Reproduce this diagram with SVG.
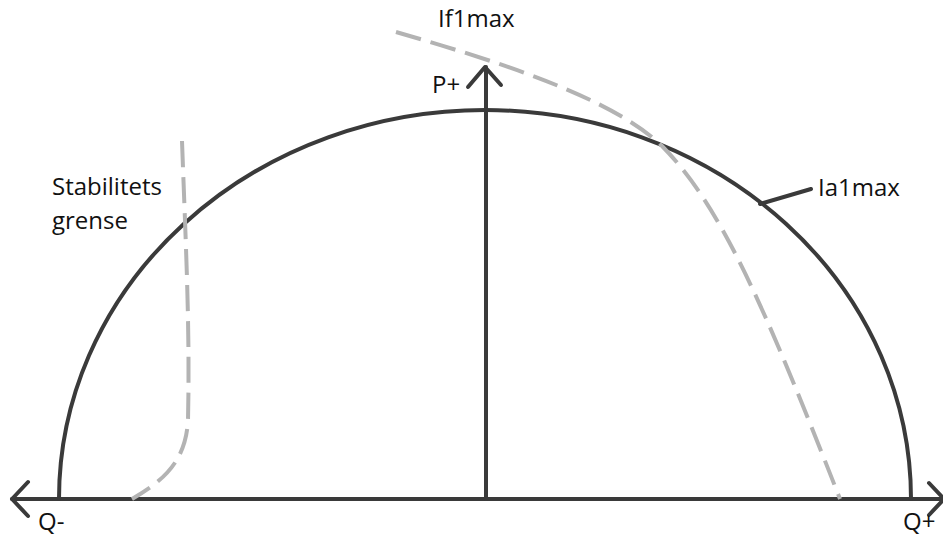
<svg xmlns="http://www.w3.org/2000/svg" width="943" height="537" viewBox="0 0 943 537">
<style>
.ax{fill:none;stroke:#3a3a3a;stroke-width:4;stroke-linecap:round;stroke-linejoin:round}
.dash{fill:none;stroke:#b3b3b3;stroke-width:4;stroke-dasharray:26 10}
.lbl{font-family:"Open Sans","Liberation Sans",sans-serif;font-size:24px;fill:#111}
</style>
<rect width="943" height="537" fill="#fff"/>
<g id="connectors">
<path id="haxis" class="ax" d="M12,499 H943"/>
<path id="vaxis" class="ax" d="M486,499 V67"/>
<path id="arrow-top" class="ax" d="M468,87 L485,67 L501,85"/>
<path id="arrow-left" class="ax" d="M28,482 L12,499 L28,516"/>
<path id="arrow-right" class="ax" d="M929,483 L944,499 L929,515"/>
<path id="ia-leader" class="ax" d="M760,204 L811,189"/>
</g>
<g id="ia1max-curve">
<path class="ax" d="M59,499 A426,389 0 0 1 911,499"/>
</g>
<g id="if1max-curve">
<path class="dash" d="M396,32 C500,62 612,98 662,146 C720,205 762,300 840,499"/>
</g>
<g id="stability-curve">
<path class="dash" d="M182,141 C186,250 190,330 188,420 C186,460 165,480 132,499"/>
</g>
<g id="labels">
<text class="lbl" x="438" y="27">If1max</text>
<text class="lbl" x="432" y="93">P+</text>
<text class="lbl" x="818" y="196">Ia1max</text>
<text class="lbl" x="52" y="195">Stabilitets</text>
<text class="lbl" x="52" y="229">grense</text>
<text class="lbl" x="38" y="530">Q-</text>
<text class="lbl" x="903" y="530">Q+</text>
</g>
</svg>
